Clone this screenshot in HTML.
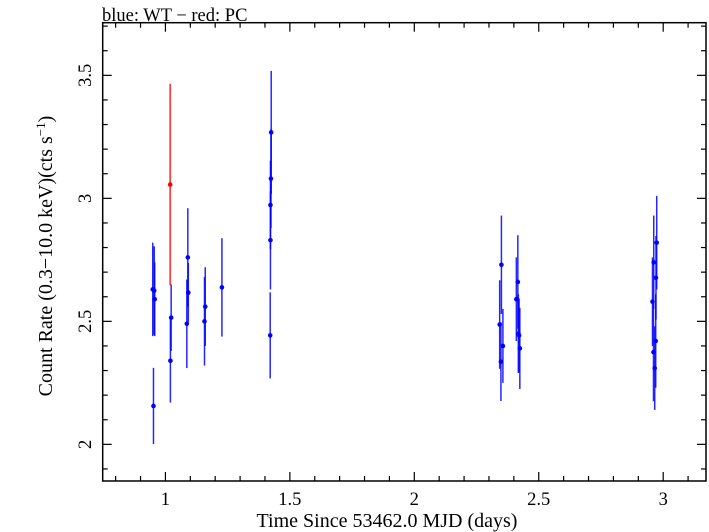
<!DOCTYPE html>
<html><head><meta charset="utf-8"><style>
html,body{margin:0;padding:0;background:#fff}
svg{display:block;font-family:"Liberation Serif",serif}
</style></head><body>
<svg id="chart" width="709" height="532" viewBox="0 0 709 532" xmlns="http://www.w3.org/2000/svg">
<text x="102" y="21" font-size="18.5">blue: WT − red: PC</text>
<text x="387" y="527" font-size="20" text-anchor="middle">Time Since 53462.0 MJD (days)</text>
<text transform="translate(52,256) rotate(-90)" font-size="20" text-anchor="middle">Count Rate (0.3−10.0 keV)(cts s<tspan dy="-7" font-size="13">−1</tspan><tspan dy="7">)</tspan></text>
<g id="ticks"></g>
<g id="marks"></g>
<rect x="102.7" y="22.7" width="603.3" height="458.3" fill="none" stroke="#000" stroke-width="1.5"/>
</svg>
<script>
const wtTime = [0.952,0.949,0.955,0.957,1.023,1.020,1.090,1.092,1.086,1.160,1.157,1.227,1.425,1.424,1.422,1.422,1.421,2.350,2.343,2.356,2.348,2.416,2.410,2.421,2.418,2.424,2.974,2.962,2.971,2.957,2.970,2.961,2.966];
const wtRate = [2.156,2.63,2.625,2.59,2.515,2.34,2.76,2.617,2.49,2.56,2.50,2.638,3.268,3.08,2.973,2.83,2.443,2.73,2.487,2.40,2.336,2.66,2.59,2.443,2.45,2.39,2.82,2.74,2.677,2.58,2.42,2.375,2.31];
const wtErr = [0.155,0.19,0.18,0.15,0.135,0.17,0.2,0.12,0.18,0.16,0.18,0.2,0.25,0.2,0.18,0.2,0.175,0.2,0.18,0.15,0.16,0.19,0.17,0.15,0.16,0.165,0.19,0.19,0.17,0.18,0.19,0.2,0.17];
const pcTime = [1.019];
const pcRate = [3.056];
const pcErr = [0.41];
const xTicks = [1,1.5,2,2.5,3];
const xTickLabels = ["1","1.5","2","2.5","3"];
const yTicks = [2,2.5,3,3.5];
const yTickLabels = ["2","2.5","3","3.5"];

const X0=102.7,X1=706,Y0=481,Y1=22.7;
const xMin=0.748,xMax=3.172,yMin=1.851,yMax=3.714;
const sx=t=>X0+(t-xMin)/(xMax-xMin)*(X1-X0);
const sy=v=>Y0-(v-yMin)/(yMax-yMin)*(Y0-Y1);
const NS="http://www.w3.org/2000/svg";
function mk(tag,attrs,parent){const e=document.createElementNS(NS,tag);for(const k in attrs)e.setAttribute(k,attrs[k]);parent.appendChild(e);return e;}
const tg=document.getElementById('ticks');
for(let i=Math.ceil(xMin*10);i<=Math.floor(xMax*10);i++){
  const t=i/10, major=Math.abs(t*2-Math.round(t*2))<1e-6, L=major?9:5, x=sx(t);
  const a=mk('line',{x1:x,x2:x,y1:Y0,y2:Y0-L,stroke:'#000','stroke-width':1.2},tg);
  
  
  const b=mk('line',{x1:x,x2:x,y1:Y1,y2:Y1+L,stroke:'#000','stroke-width':1.2},tg);
  
  
}
for(let i=Math.ceil(yMin*10);i<=Math.floor(yMax*10);i++){
  const v=i/10, major=Math.abs(v*2-Math.round(v*2))<1e-6, L=major?9:5, y=sy(v);
  const a=mk('line',{x1:X0,x2:X0+L,y1:y,y2:y,stroke:'#000','stroke-width':1.2},tg);
  
  
  const b=mk('line',{x1:X1,x2:X1-L,y1:y,y2:y,stroke:'#000','stroke-width':1.2},tg);
  
  
}
xTicks.forEach((t,i)=>{
  const e=mk('text',{x:sx(t),y:505,'font-size':18.5,'text-anchor':'middle'},tg);
  e.textContent=xTickLabels[i];
  
  
});
yTicks.forEach((v,i)=>{
  const y=sy(v);
  const e=mk('text',{transform:`translate(91,${y}) rotate(-90)`,'font-size':18.5,'text-anchor':'middle'},tg);
  e.textContent=yTickLabels[i];
  
  
});
const mg=document.getElementById('marks');
function series(T,R,E,color,name){
  T.forEach((t,i)=>{
    const x=sx(t);
    const l=mk('line',{x1:x,x2:x,y1:sy(R[i]-E[i]),y2:sy(R[i]+E[i]),stroke:color,'stroke-width':1.5,'stroke-opacity':0.85},mg);
    
    
    const c=mk('circle',{cx:x,cy:sy(R[i]),r:2.3,fill:color},mg);
    
    
  });
}
series(wtTime,wtRate,wtErr,'#0000ff','wt');
series(pcTime,pcRate,pcErr,'#ff0000','pc');
</script>
</body></html>
